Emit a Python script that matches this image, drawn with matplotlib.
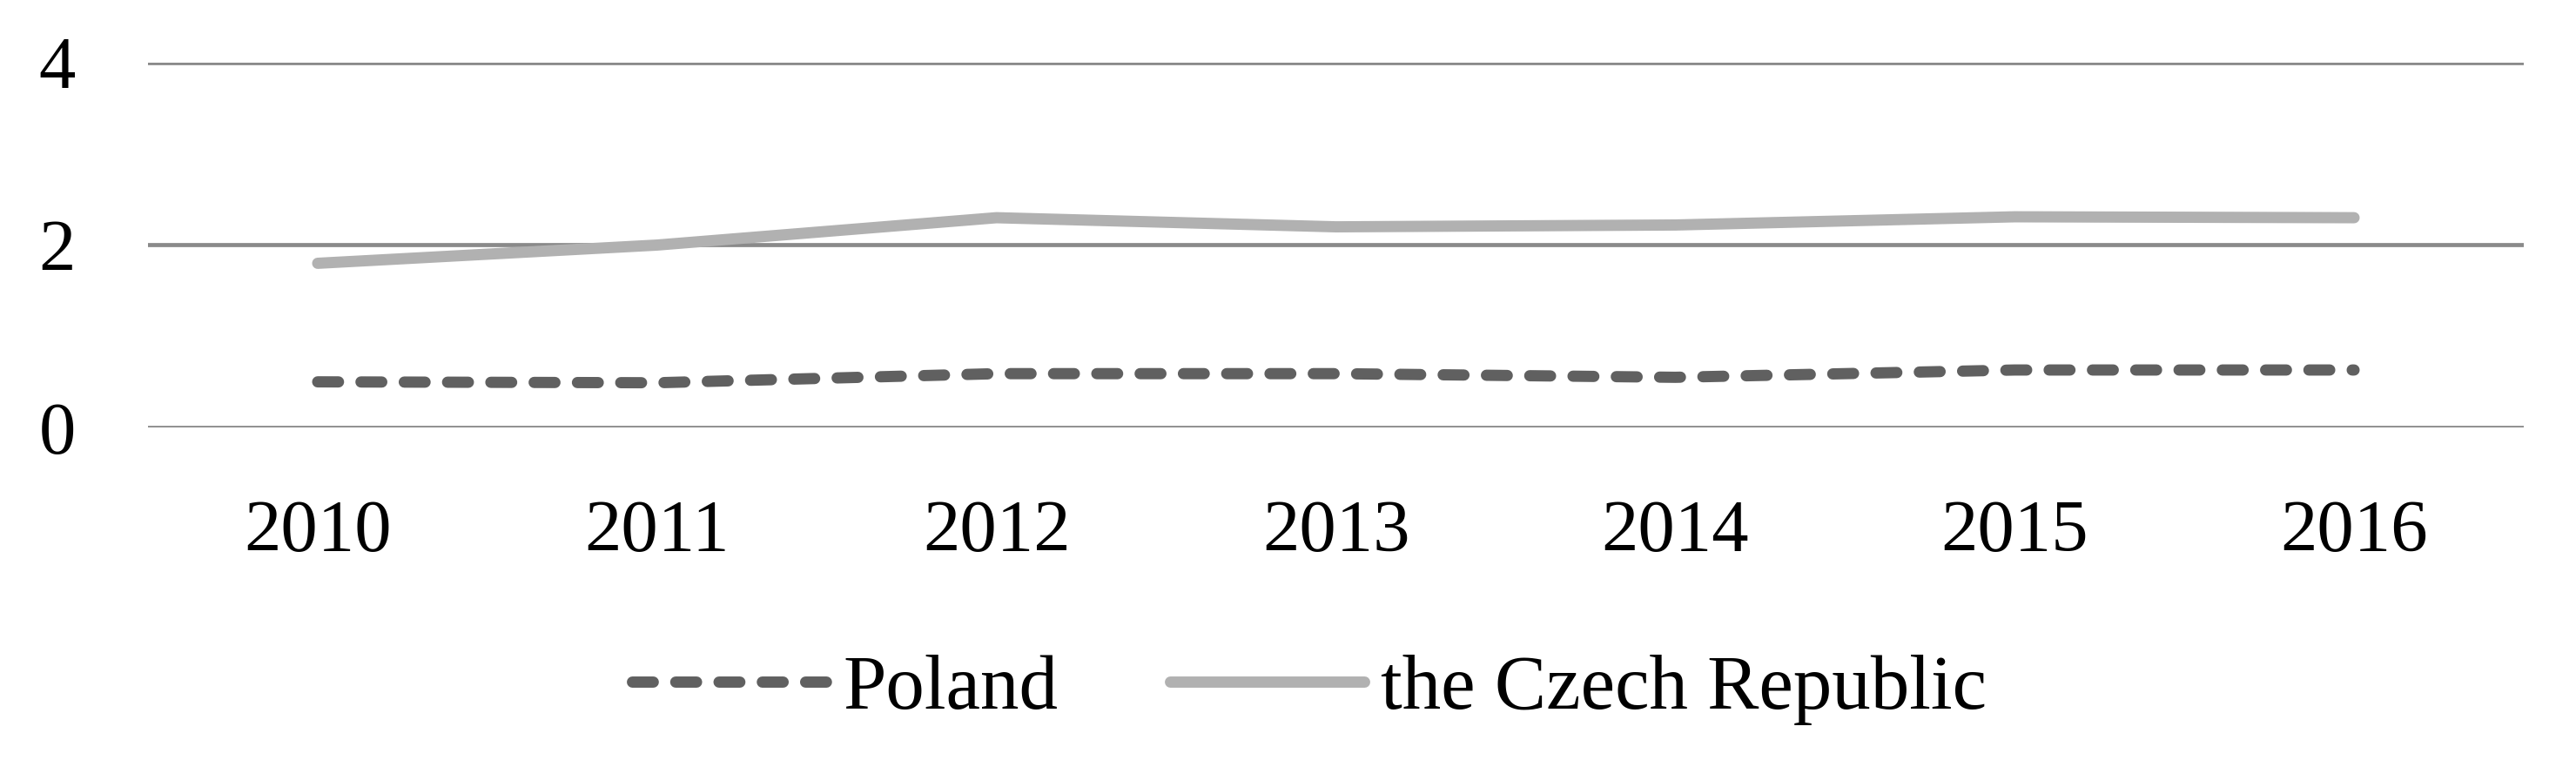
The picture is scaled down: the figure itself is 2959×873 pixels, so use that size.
import matplotlib
matplotlib.use("Agg")
import matplotlib.pyplot as plt

years = ["2010", "2011", "2012", "2013", "2014", "2015", "2016"]
poland = [0.50, 0.49, 0.59, 0.59, 0.55, 0.63, 0.63]
czech = [1.80, 2.00, 2.30, 2.20, 2.22, 2.31, 2.30]
yticks = [0, 2, 4]

plt.rcParams['font.family'] = ['Liberation Serif', 'DejaVu Serif']

fig = plt.figure(figsize=(29.59, 8.73), dpi=100)
ax = fig.add_axes([170/2959, 1-491/873, (2899-170)/2959, (491-72)/873])

x = list(range(len(years)))
ax.plot(x, poland, color='#606060', lw=9.3, dashes=(1.85, 2.0),
        dash_capstyle='round', solid_capstyle='round', label='Poland', zorder=3)
ax.plot(x, czech, color='#b1b1b1', lw=9.3, solid_capstyle='round',
        solid_joinstyle='round', label='the Czech Republic', zorder=3)

ax.set_xlim(-0.5, len(years) - 0.5)
ax.set_ylim(0, 4)
ax.set_yticks(yticks)
ax.set_yticklabels([str(v) for v in yticks])
ax.set_xticks(x)
ax.set_xticklabels(years)
ax.grid(axis='y', color='#8a8a8a', lw=3.4)
ax.set_axisbelow(True)
for s in ax.spines.values():
    s.set_visible(False)
ax.tick_params(axis='both', length=0, labelsize=61, colors='black')
ax.tick_params(axis='x', pad=60)
ax.tick_params(axis='y', pad=60)

fig.legend(loc='center', bbox_to_anchor=(1504/2959, 1-792/873), ncol=2,
           frameon=False, fontsize=64, handlelength=2.51, handletextpad=0.21,
           columnspacing=1.45)

fig.savefig("out.png", dpi=100)
